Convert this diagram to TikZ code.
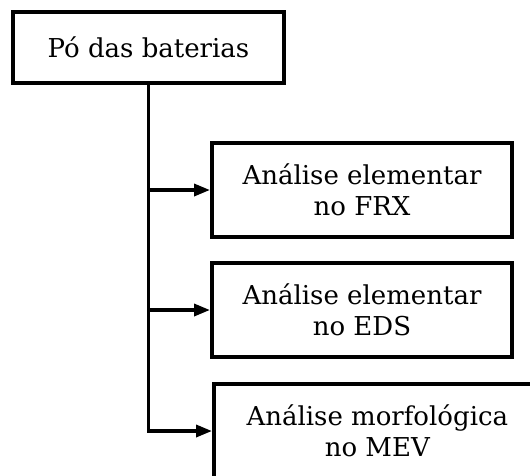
\documentclass[tikz,border=0pt]{standalone}
\usepackage{fontspec}
\setmainfont{DejaVu Serif}
\usetikzlibrary{arrows.meta}

\begin{document}
\begin{tikzpicture}[x=0.75pt,y=-0.75pt,
  font=\fontsize{19.5}{23}\selectfont,
  box/.style={draw, line width=3pt, align=center, inner sep=0pt},
  link/.style={line width=2.6pt, -{Triangle[length=12pt,width=9pt]}}]
\useasboundingbox (0,0) rectangle (530,475);
\clip (0,0) rectangle (530,475);

\node[box, minimum width=203pt, minimum height=53pt] (po) at (148.5,47.5) {Pó das baterias};
\node[box, minimum width=225pt, minimum height=70.5pt] (frx) at (362,190) {Análise elementar\\no FRX};
\node[box, minimum width=225pt, minimum height=70.5pt] (eds) at (362,310) {Análise elementar\\no EDS};
\node[box, minimum width=245pt, minimum height=70.5pt, anchor=west] (mev) at (212,431) {Análise morfológica\\no MEV};

\draw[line width=2.6pt] (po.south) -- (po.south |- mev.west);
\draw[link] (po.south |- frx.west) -- (frx.west);
\draw[link] (po.south |- eds.west) -- (eds.west);
\draw[link, line join=miter] (po.south) ++(0,-1) |- (mev.west);

\end{tikzpicture}
\end{document}
